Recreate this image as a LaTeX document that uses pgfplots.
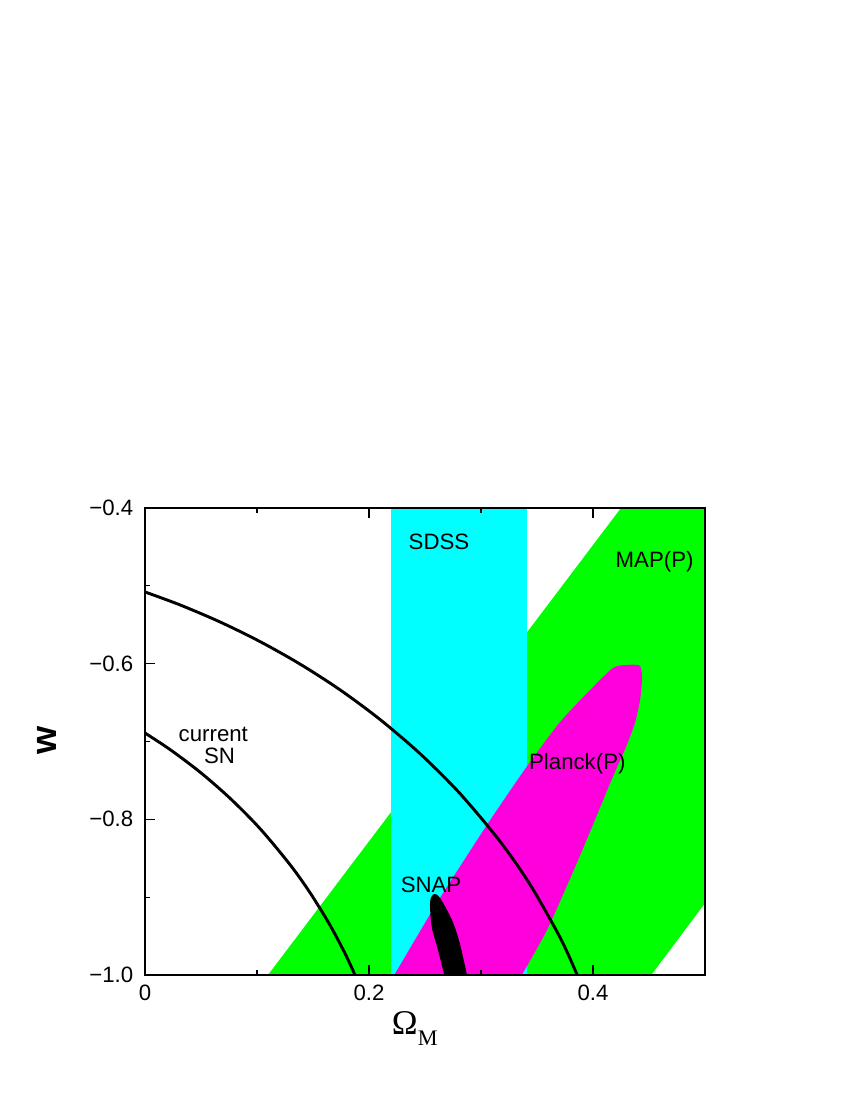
\documentclass[border=0pt]{standalone}
\usepackage{fontspec}
\setmainfont{Liberation Sans}
\newfontfamily\seriffont{Liberation Serif}
\usepackage{pgfplots}
\pgfplotsset{compat=1.18}
\definecolor{mapgreen}{RGB}{0,255,0}
\definecolor{sdsscyan}{RGB}{0,255,255}
\definecolor{planckmag}{RGB}{255,0,220}
\begin{document}
\begin{tikzpicture}
\useasboundingbox (0,0) rectangle (612pt,792pt);
\begin{axis}[
  at={(104.4pt,90pt)}, anchor=south west,
  scale only axis, width=403.2pt, height=336.24pt,
  xmin=0, xmax=0.5, ymin=-1, ymax=-0.4,
  xtick={0,0.2,0.4}, xticklabels={0,0.2,0.4},
  minor xtick={0.1,0.3},
  ytick={-1,-0.8,-0.6,-0.4}, yticklabels={−1.0,−0.8,−0.6,−0.4},
  minor ytick={-0.9,-0.7,-0.5},
  xtick pos=both, ytick pos=left,
  tick align=inside,
  major tick length=7pt, minor tick length=3.6pt,
  every tick/.style={black, line width=0.8pt},
  axis line style={line width=1pt},
  tick label style={font=\fontsize{16}{19}\selectfont},
  xticklabel style={yshift=-4pt},
  yticklabel style={xshift=-5pt},
  axis on top,
]
% MAP(P) band
\addplot[fill=mapgreen, draw=none] coordinates {
 (0.1098,-1.0) (0.425,-0.4) (0.764,-0.4) (0.452,-1.0) };
% SDSS band
\addplot[fill=sdsscyan, draw=none] coordinates {
 (0.22,-1.05) (0.22,-0.35) (0.341,-0.35) (0.341,-1.05) };
% Planck(P)
\addplot[fill=planckmag, draw=none, smooth, tension=0.35] coordinates {
 (0.3340,-1.006) (0.359,-0.942) (0.388,-0.848) (0.4175,-0.746) (0.4295,-0.707)
 (0.4375,-0.676) (0.442,-0.647) (0.4438,-0.617) (0.441,-0.602) (0.4196,-0.604)
 (0.400,-0.630) (0.3705,-0.675) (0.340,-0.734) (0.3054,-0.807) (0.2625,-0.903)
 (0.2222,-1.001) };
% SNAP
\addplot[fill=black, draw=none, smooth, tension=0.5] coordinates {
 (0.2690,-1.01) (0.2616,-0.968) (0.256,-0.938) (0.2545,-0.906) (0.2580,-0.896)
 (0.2634,-0.901) (0.274,-0.929) (0.281,-0.959) (0.2890,-1.01) };
% current SN curves
\addplot[black, line width=2.1pt, smooth, tension=0.5] coordinates {
 (0,-0.5079) (0.03125,-0.5245) (0.06696,-0.5464) (0.10268,-0.5716) (0.13839,-0.6005)
 (0.17411,-0.6336) (0.20982,-0.6717) (0.24554,-0.7156) (0.28125,-0.7669)
 (0.31696,-0.8283) (0.34375,-0.8837) (0.37054,-0.9517) (0.38571,-0.9994) (0.39286,-1.0256) };
\addplot[black, line width=2.1pt, smooth, tension=0.5] coordinates {
 (0,-0.6891) (0.02232,-0.7103) (0.04911,-0.7393) (0.07589,-0.7729) (0.10268,-0.8119)
 (0.12946,-0.8582) (0.14732,-0.8942) (0.16518,-0.9359) (0.17857,-0.9723) (0.18750,-1.0)
 (0.19375,-1.0216) };
\node[font=\fontsize{16}{19}\selectfont] at (axis cs:0.2625,-0.444) {SDSS};
\node[font=\fontsize{16}{19}\selectfont] at (axis cs:0.455,-0.469) {MAP(P)};
\node[font=\fontsize{16}{19}\selectfont] at (axis cs:0.386,-0.728) {Planck(P)};
\node[font=\fontsize{16}{19}\selectfont] at (axis cs:0.2554,-0.884) {SNAP};
\node[font=\fontsize{16}{19}\selectfont, align=center] at (axis cs:0.061,-0.705) {current\\[-3pt]\ \ SN};
\end{axis}
\node[anchor=base west, inner sep=0pt] at (282pt,47.5pt) {\seriffont\fontsize{25}{30}\selectfont Ω\raisebox{-8pt}{\fontsize{16}{19}\selectfont M}};
\node[rotate=90] at (33.84pt,259.2pt) {\fontsize{26}{30}\selectfont\bfseries w};
\end{tikzpicture}
\end{document}
